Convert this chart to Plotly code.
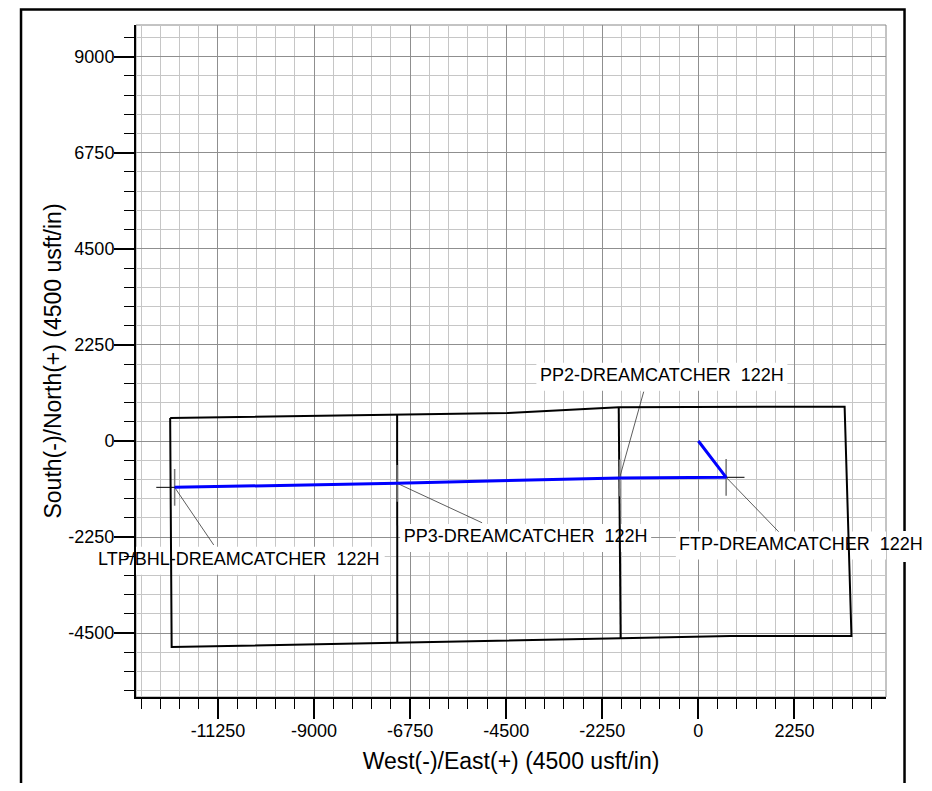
import plotly.graph_objects as go

# ── Lease / section lines (usft) ─────────────────────────────
lease_x = [-12370, -7055, -4475, -1865, 3425, 3585, 750, -1820, -7050, -12335, -12370]
lease_y = [540, 625, 655, 790, 805, -4565, -4565, -4620, -4730, -4825, 540]
pp3_sec_x = [-7055, -7050]
pp3_sec_y = [625, -4730]
pp2_sec_x = [-1865, -1820]
pp2_sec_y = [790, -4620]

# ── Wellbore plan ────────────────────────────────────────────
well_x = [0, 650, -1845, -7055, -12265]
well_y = [0, -850, -865, -990, -1085]

# ── Targets ──────────────────────────────────────────────────
target_names = [
    "FTP-DREAMCATCHER\u00a0\u00a0122H",
    "PP2-DREAMCATCHER\u00a0\u00a0122H",
    "PP3-DREAMCATCHER\u00a0\u00a0122H",
    "LTP/BHL-DREAMCATCHER\u00a0\u00a0122H",
]
target_x = [650, -1845, -7055, -12265]
target_y = [-850, -865, -990, -1085]

# ── Axis ticks ───────────────────────────────────────────────
x_tick_vals = [-11250, -9000, -6750, -4500, -2250, 0, 2250]
x_tick_text = ["-11250", "-9000", "-6750", "-4500", "-2250", "0", "2250"]
y_tick_vals = [-4500, -2250, 0, 2250, 4500, 6750, 9000]
y_tick_text = ["-4500", "-2250", "0", "2250", "4500", "6750", "9000"]

# label layout: centre, leader end, box width (px)
label_cx = [2400, -855, -4045, -10765]
label_cy = [-2450, 1505, -2270, -2805]
leader_x = [1880, -1280, -5065, -11350]
leader_y = [-2125, 1155, -1915, -2435]
label_w_px = [250, 251, 251, 292]

PX = 0.0427          # pixels per usft
FONT = "Liberation Sans, Arial, sans-serif"
CROSS = 430

fig = go.Figure()

# label text first so lease lines draw over it
fig.add_trace(go.Scatter(
    x=label_cx, y=label_cy, mode="text", text=target_names,
    textfont=dict(size=18, color="black", family=FONT),
    textposition="middle center", cliponaxis=False,
    hoverinfo="skip", showlegend=False,
))

# leader lines
lx, ly = [], []
for tx, ty, ex, ey in zip(target_x, target_y, leader_x, leader_y):
    lx += [tx, ex, None]
    ly += [ty, ey, None]
fig.add_trace(go.Scatter(x=lx, y=ly, mode="lines",
                         line=dict(color="#333333", width=0.8),
                         hoverinfo="skip", showlegend=False))

# lease lines
for xs, ys in [(lease_x, lease_y), (pp3_sec_x, pp3_sec_y), (pp2_sec_x, pp2_sec_y)]:
    fig.add_trace(go.Scatter(x=xs, y=ys, mode="lines",
                             line=dict(color="black", width=2),
                             hoverinfo="skip", showlegend=False))

# crosshairs
hx, hy, vx, vy = [], [], [], []
for tx, ty in zip(target_x, target_y):
    hx += [tx - CROSS, tx + CROSS, None]
    hy += [ty, ty, None]
    vx += [tx, tx, None]
    vy += [ty - CROSS, ty + CROSS, None]
fig.add_trace(go.Scatter(x=vx, y=vy, mode="lines",
                         line=dict(color="#777777", width=1.5),
                         hoverinfo="skip", showlegend=False))
fig.add_trace(go.Scatter(x=hx, y=hy, mode="lines",
                         line=dict(color="black", width=1),
                         hoverinfo="skip", showlegend=False))

# wellbore
fig.add_trace(go.Scatter(x=well_x, y=well_y, mode="lines",
                         line=dict(color="#0000ff", width=3),
                         hoverinfo="skip", showlegend=False))

# white label boxes, above grid but under traces
shapes = []
box_h = 28 / PX
for cx, cy, w in zip(label_cx, label_cy, label_w_px):
    half = w / PX / 2
    shapes.append(dict(type="rect", xref="x", yref="y", layer="between",
                       x0=cx - half, x1=cx + half, y0=cy - box_h / 2, y1=cy + box_h / 2,
                       fillcolor="white", line=dict(width=0)))

# gray top/right plot frame
shapes.append(dict(type="rect", xref="paper", yref="paper", x0=0, x1=1, y0=0, y1=1,
                   layer="between", line=dict(color="#888888", width=1)))

# outer page border (gap where FTP label overlaps)
shapes.append(dict(type="path", xref="paper", yref="paper", layer="above",
                   path="M -0.1533,-0.15 L -0.1533,1.0231 L 1.0247,1.0231 L 1.0247,0.247 "
                        "M 1.0247,0.2009 L 1.0247,-0.15",
                   line=dict(color="black", width=2.5)))

axis_common = dict(
    showline=True, linecolor="black", linewidth=2,
    ticks="outside", ticklen=20, tickwidth=1.5, tickcolor="black",
    ticklabelstandoff=-4,
    showgrid=True, gridcolor="#8f8f8f", gridwidth=1,
    zeroline=False, automargin=False,
    tickfont=dict(size=18, color="black", family=FONT),
    minor=dict(dtick=450, tick0=0, ticks="outside", ticklen=10, tickwidth=1.2,
               tickcolor="black", showgrid=True, gridcolor="#c6c6c6", gridwidth=1),
)

fig.update_layout(
    width=916, height=775,
    margin=dict(l=128, r=38, t=17, b=86),
    paper_bgcolor="white", plot_bgcolor="white",
    font=dict(family=FONT, color="black"),
    showlegend=False,
    xaxis=dict(
        range=[-13170, 4394], tickmode="array",
        tickvals=x_tick_vals, ticktext=x_tick_text,
        title=dict(text="West(-)/East(+) (4500 usft/in)",
                   font=dict(size=23, color="black", family=FONT), standoff=13),
        **axis_common,
    ),
    yaxis=dict(
        range=[-5995, 9742], tickmode="array",
        tickvals=y_tick_vals, ticktext=y_tick_text,
        title=dict(text="South(-)/North(+) (4500 usft/in)",
                   font=dict(size=23, color="black", family=FONT), standoff=0),
        **axis_common,
    ),
    shapes=shapes,
)

fig.write_html("out.html")
